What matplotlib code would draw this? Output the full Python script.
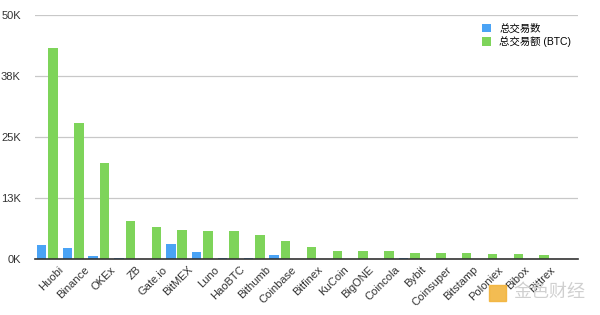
import matplotlib
matplotlib.use("Agg")
import matplotlib.pyplot as plt
import numpy as np
from matplotlib.ticker import FixedLocator

# exchange volume data (values in K)
exchanges = ['Huobi', 'Binance', 'OKEx', 'ZB', 'Gate.io', 'BitMEX', 'Luno', 'HaoBTC',
             'Bithumb', 'Coinbase', 'Bitfinex', 'KuCoin', 'BigONE', 'Coincola', 'Bybit',
             'Coinsuper', 'Bitstamp', 'Poloniex', 'Bibox', 'Bittrex']
trade_count = [2.8, 2.2, 0.55, 0.12, 0.0, 3.15, 1.5, 0.1, 0.1, 0.8,
               0.0, 0.0, 0.0, 0.0, 0.12, 0.0, 0.0, 0.0, 0.0, 0.0]
trade_volume = [43.3, 27.9, 19.6, 7.7, 6.5, 5.9, 5.75, 5.75, 4.9, 3.75,
                2.5, 1.65, 1.65, 1.6, 1.3, 1.17, 1.17, 0.96, 0.96, 0.82]
ytick_vals = [0, 12.5, 25, 37.5, 50]
ytick_labels = ['0K', '13K', '25K', '38K', '50K']

plt.rcParams['font.family'] = ['Liberation Sans', 'Noto Sans CJK SC', 'DejaVu Sans']

blue = '#4aa3f5'
green = '#7ed45a'

fig = plt.figure(figsize=(6, 3.15), dpi=100)
ax = fig.add_axes([0.058, 0.178, 0.905, 0.773])

x = np.arange(len(exchanges))
w = 0.37
ax.bar(x - 0.24, trade_count, w, color=blue, label='总交易数')
ax.bar(x + 0.2, trade_volume, w, color=green, label='总交易额 (BTC)')

ax.set_xlim(-0.5, 20.5)
ax.set_ylim(0, 50)
ax.yaxis.set_major_locator(FixedLocator(ytick_vals))
ax.set_yticklabels(ytick_labels, fontsize=8, color='#333333')
ax.set_xticks(x + 0.42)
ax.set_xticklabels(exchanges, rotation=45, ha='right', rotation_mode='anchor',
                   fontsize=8, color='#333333')
ax.tick_params(axis='both', length=0)
ax.tick_params(axis='y', pad=10)
ax.tick_params(axis='x', pad=4)

ax.grid(True, axis='y', color='#c8c8c8', linewidth=0.9)
ax.set_axisbelow(True)
for s in ['top', 'right', 'left']:
    ax.spines[s].set_visible(False)
ax.spines['bottom'].set_color('#333333')
ax.spines['bottom'].set_linewidth(1.2)
ax.spines['bottom'].set_zorder(5)

ax.legend(loc='upper left', bbox_to_anchor=(0.815, 0.985), frameon=False, fontsize=7.5,
          handlelength=0.9, handleheight=0.9, handletextpad=0.8, labelspacing=0.25,
          borderaxespad=0)

# watermark
fig.patches.append(plt.Rectangle((0.815, 0.045), 0.028, 0.05, transform=fig.transFigure,
                                 color='#f2b134', alpha=0.85))
fig.text(0.855, 0.07, '金色财经', fontsize=13, color='#d0d0d0', va='center', ha='left')

fig.savefig('out.png', dpi=100)
